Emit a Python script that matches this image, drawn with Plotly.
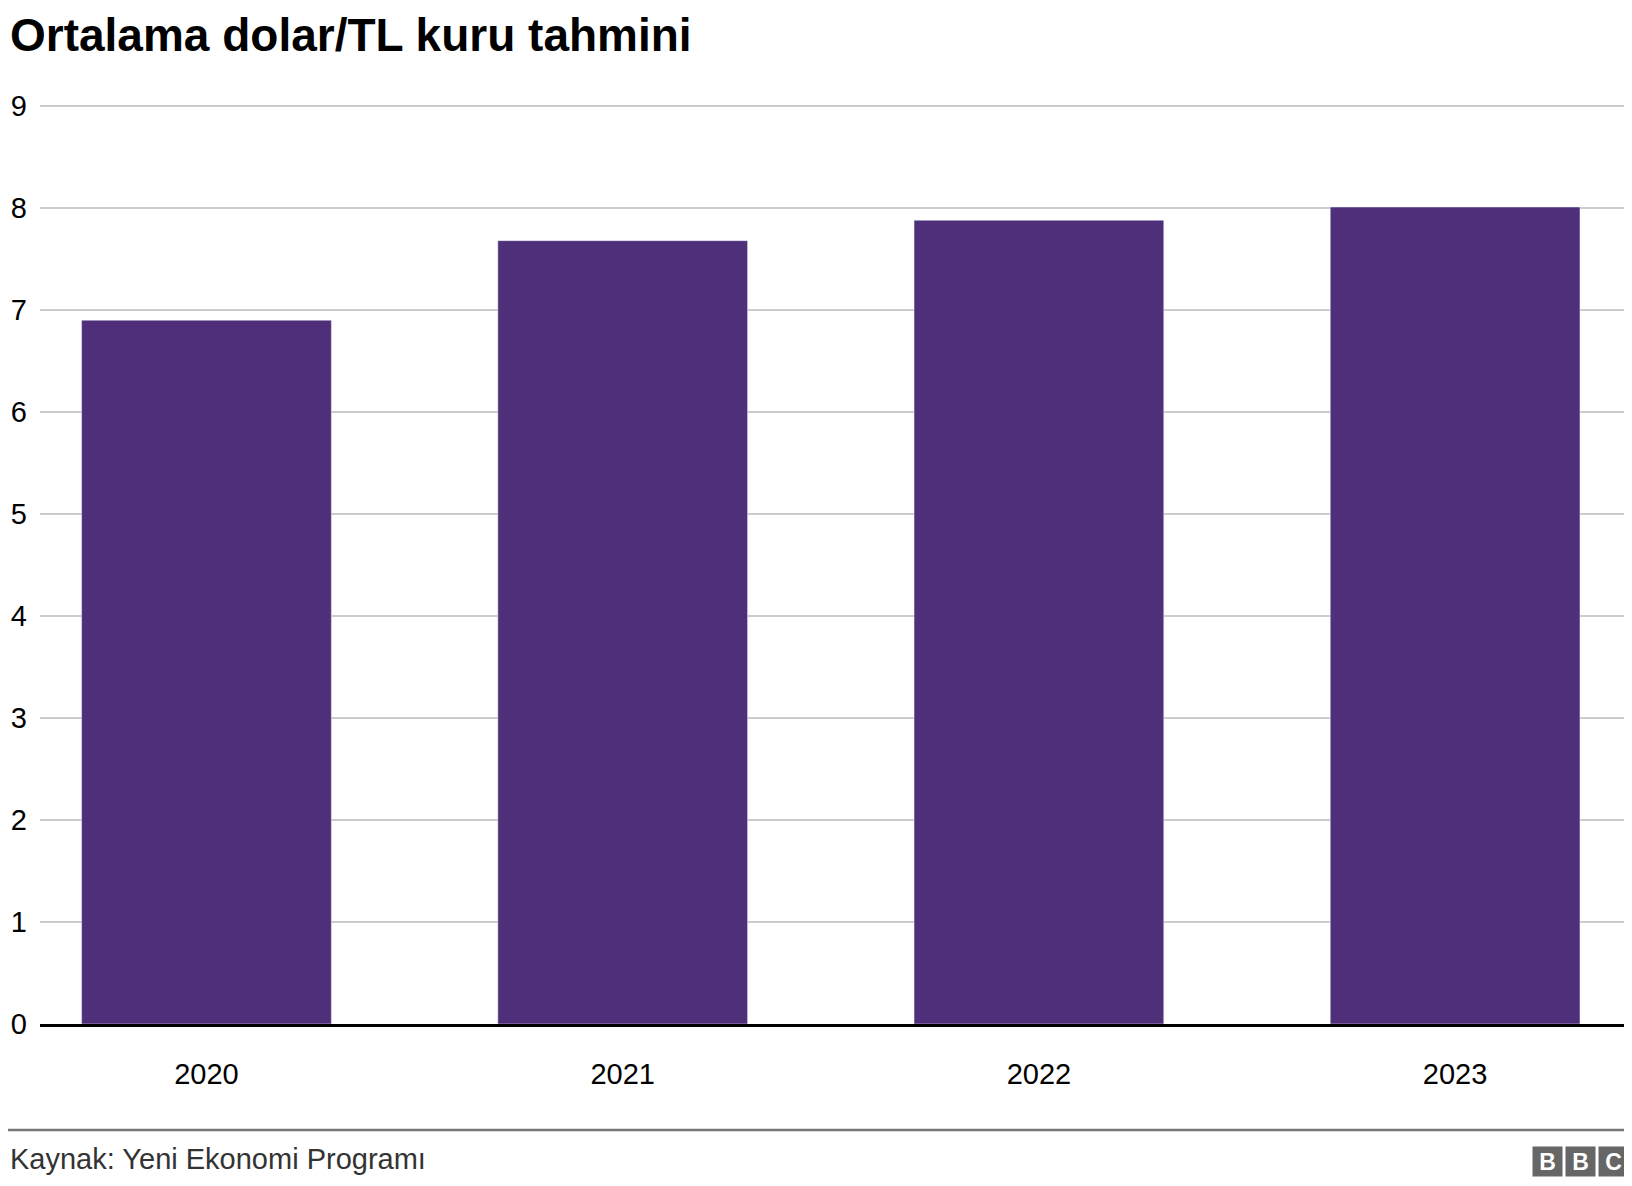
import plotly.graph_objects as go

years = ["2020", "2021", "2022", "2023"]
rates = [6.9, 7.68, 7.88, 8.01]
y_ticks = list(range(0, 10))

W, H = 1624, 1178
L, T, B = 32, 96, 162
PW, PH = W - L, H - T - B

fig = go.Figure()
fig.add_trace(go.Bar(x=years, y=rates, marker_color="#4f2e7a", width=0.6))

fig.update_layout(
    width=W, height=H,
    margin=dict(l=L, r=0, t=T, b=B),
    paper_bgcolor="white", plot_bgcolor="white",
    font=dict(family="Liberation Sans, Arial", color="#000", size=29),
    showlegend=False,
)
fig.update_yaxes(range=[0, 9.02], tickvals=y_ticks, gridcolor="#cccccc", gridwidth=1.5,
                 zeroline=False, ticks="", ticklabelstandoff=12)
fig.update_xaxes(range=[-0.4, 3.425], showline=True, linecolor="#000", linewidth=3,
                 ticks="", ticklabelstandoff=22)

fig.add_annotation(text="<b>Ortalama dolar/TL kuru tahmini</b>", xref="paper", yref="paper",
                   x=-L / PW, y=1.0, yshift=69, xanchor="left", yanchor="middle",
                   showarrow=False, font=dict(size=46))
fig.add_annotation(text="Kaynak: Yeni Ekonomi Programı", xref="paper", yref="paper",
                   x=-L / PW, y=0, yshift=-135, xanchor="left", yanchor="middle",
                   showarrow=False, font=dict(size=29, color="#333"))
fig.add_shape(type="line", xref="paper", yref="paper", x0=-L / PW, x1=1,
              y0=-106 / PH, y1=-106 / PH, line=dict(color="#777", width=2.5))
for i, ch in enumerate("BBC"):
    fig.add_annotation(text="<b>" + ch + "</b>", xref="paper", yref="paper",
                       x=1, xshift=-(2 - i) * 33 - 19, y=0, yshift=-137,
                       xanchor="center", yanchor="middle", showarrow=False,
                       bgcolor="#666", width=27, height=27,
                       font=dict(size=23, color="white"))

fig.write_html("out.html")
